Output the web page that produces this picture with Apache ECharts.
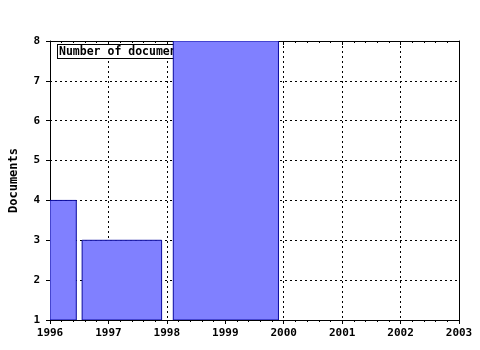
<!DOCTYPE html>
<html>
<head>
<meta charset="utf-8">
<script src="https://cdn.jsdelivr.net/npm/echarts@6/dist/echarts.min.js"></script>
<style>html,body{margin:0;padding:0;background:#fff}#c{width:480px;height:350px}</style>
</head>
<body>
<div id="c"></div>
<script>
const binStart = [1996, 1996.55, 1998.11];
const binEnd = [1996.45, 1997.91, 1999.91];
const documents = [4, 3, 8];
const xTicks = [1996, 1997, 1998, 1999, 2000, 2001, 2002, 2003];
const yTicks = [1, 2, 3, 4, 5, 6, 7, 8];
const seriesName = 'Number of documents';
const yLabel = 'Documents';

const FONT = 'DejaVu Sans Mono';
const yMin = yTicks[0];
const data = binStart.map((s, i) => [s, binEnd[i], documents[i]]);

const chart = echarts.init(document.getElementById('c'));
const lbl = {color: '#000', fontFamily: FONT, fontWeight: 'bold', fontSize: 11};
const dotted = {show: true, lineStyle: {color: '#000', type: [2, 3], width: 1}};
chart.setOption({
  animation: false,
  backgroundColor: '#fff',
  grid: {left: 50, right: 21, top: 41, bottom: 30},
  graphic: [{
    type: 'text', left: 57, top: 44, z: 1,
    style: {
      text: seriesName, fill: '#000',
      font: 'bold 11.5px "DejaVu Sans Mono"',
      backgroundColor: '#fff', borderColor: '#000', borderWidth: 1,
      padding: [1, 2, 0, 1]
    }
  }],
  xAxis: [{
    type: 'value', min: xTicks[0], max: xTicks[xTicks.length - 1], interval: 1,
    axisLine: {lineStyle: {color: '#000'}},
    axisTick: {show: true, length: 4, lineStyle: {color: '#000'}},
    minorTick: {show: true, splitNumber: 5, length: 2, lineStyle: {color: '#000'}},
    axisLabel: Object.assign({}, lbl, {margin: 8, formatter: v => String(v)}),
    splitLine: dotted
  }, {
    type: 'value', position: 'top', min: xTicks[0], max: xTicks[xTicks.length - 1], interval: 1,
    axisLine: {lineStyle: {color: '#000'}},
    axisTick: {show: true, inside: true, length: 4, lineStyle: {color: '#000'}},
    minorTick: {show: true, splitNumber: 5, length: 2, lineStyle: {color: '#000'}},
    axisLabel: {show: false}, splitLine: {show: false}
  }],
  yAxis: [{
    type: 'value', min: yMin, max: yTicks[yTicks.length - 1], interval: 1,
    name: yLabel, nameLocation: 'middle', nameGap: 30,
    nameTextStyle: Object.assign({}, lbl, {fontSize: 12}),
    axisLine: {show: true, lineStyle: {color: '#000'}},
    axisTick: {show: true, length: 4, lineStyle: {color: '#000'}},
    axisLabel: Object.assign({}, lbl, {margin: 10}),
    splitLine: dotted
  }, {
    type: 'value', position: 'right', min: yMin, max: yTicks[yTicks.length - 1], interval: 1,
    axisLine: {show: true, lineStyle: {color: '#000'}},
    axisTick: {show: false}, axisLabel: {show: false}, splitLine: {show: false}
  }],
  series: [{
    name: seriesName,
    type: 'custom',
    z: 10,
    clip: true,
    renderItem: function (params, api) {
      const tl = api.coord([api.value(0), api.value(2)]);
      const br = api.coord([api.value(1), yMin]);
      return {
        type: 'rect',
        shape: {x: tl[0], y: tl[1], width: br[0] - tl[0], height: br[1] - tl[1]},
        style: {fill: '#8080ff', stroke: '#0a0aa0', lineWidth: 1}
      };
    },
    encode: {x: [0, 1], y: 2},
    data: data
  }]
});
</script>
</body>
</html>
